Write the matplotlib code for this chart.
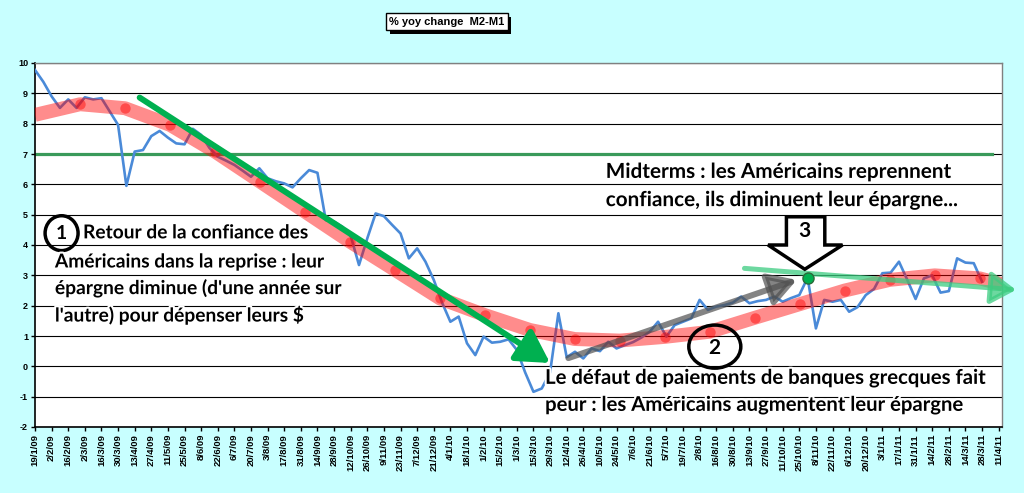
import numpy as np
import pandas as pd
import matplotlib
matplotlib.use('Agg')
import matplotlib.pyplot as plt
from matplotlib.patches import Ellipse, Polygon
import matplotlib.patheffects as pe

# weekly % yoy change M2-M1, from 19/1/09
m2m1 = [9.77, 9.38, 8.9, 8.52, 8.80, 8.52, 8.87, 8.80, 8.84, 8.40,
        7.96, 5.95, 7.08, 7.13, 7.59, 7.76, 7.54, 7.35, 7.32, 7.83,
        7.63, 7.2, 6.91, 6.78, 6.64, 6.45, 6.25, 6.53, 6.2, 6.1,
        6.03, 5.90, 6.2, 6.47, 6.38, 4.82, 4.77, 4.6, 4.3, 3.34,
        4.22, 5.04, 4.95, 4.66, 4.38, 3.56, 3.89, 3.45, 2.85, 2.1,
        1.47, 1.64, 0.76, 0.37, 0.98, 0.78, 0.81, 0.89, 0.54, -0.2,
        -0.84, -0.73, -0.2, 1.75, 0.3, 0.48, 0.26, 0.59, 0.5, 0.81,
        0.59, 0.70, 0.8, 0.95, 1.14, 1.47, 0.98, 1.36, 1.47, 1.58,
        2.19, 1.86, 1.97, 2.02, 2.1, 2.30, 2.08, 2.15, 2.19, 2.3,
        2.13, 2.25, 2.35, 2.92, 1.25, 2.19, 2.13, 2.19, 1.80, 1.95,
        2.35, 2.55, 3.07, 3.09, 3.45, 2.85, 2.22, 2.90, 3.0, 2.43,
        2.48, 3.56, 3.42, 3.40, 2.79]

dates = pd.date_range('2009-01-19', periods=117, freq='7D')
tick_idx = list(range(0, 117, 2))
tick_labels = [f"{dates[i].day}/{dates[i].month}/{dates[i]:%y}" for i in tick_idx]

# hand-drawn red trend band (week, value)
trend_x = [0, 5.42, 10.83, 16.25, 21.66, 27.08, 32.49, 37.91, 43.32, 48.74, 54.15,
           59.57, 64.98, 70.4, 75.81, 81.23, 86.64, 92.06, 97.47, 102.89, 108.3,
           113.72, 116.5]
trend_y = [8.29, 8.64, 8.51, 7.96, 7.08, 6.09, 5.10, 4.11, 3.18, 2.24, 1.69,
           1.20, 0.90, 0.85, 0.97, 1.14, 1.60, 2.05, 2.50, 2.85, 3.0,
           2.90, 2.7]
dots_x = trend_x[1:-1]
dots_y = trend_y[1:-1]

# annotation arrows (week, value)
green_arrow = [(12.6, 8.86), (62.0, 0.11)]
gray_arrow = [(64.2, 0.27), (91.7, 2.85)]
lightgreen_arrow = [(85.4, 3.23), (118.1, 2.52)]
peak = (93, 2.92)

fig = plt.figure(figsize=(10.24, 4.93), dpi=100, facecolor='#c8ffff')
ax = fig.add_axes([35/1024, 1-427/493, (1002-35)/1024, (427-63)/493])
ax.set_facecolor('white')

x = np.arange(len(m2m1))
ax.plot(x, m2m1, color='#4a8ad8', lw=1.9, zorder=3)

ax.plot(trend_x, trend_y, color='red', alpha=0.45, lw=10,
        solid_capstyle='butt', solid_joinstyle='round', zorder=4)
ax.plot(dots_x, dots_y, 'o', color='red', alpha=0.45, ms=7.5, mec='none', zorder=5)

ax.axhline(7, xmax=0.99, color='#3a9a5a', lw=2.3, zorder=2)

ax.annotate('', xy=green_arrow[1], xytext=green_arrow[0],
            arrowprops=dict(arrowstyle='-|>,head_length=1.4,head_width=0.8', lw=4.3,
                            color='#00b050', mutation_scale=14, shrinkA=0, shrinkB=0),
            zorder=6)
ax.annotate('', xy=gray_arrow[1], xytext=gray_arrow[0],
            arrowprops=dict(arrowstyle='-|>,head_length=1.2,head_width=0.7', lw=4.3,
                            color='#505050', alpha=0.7, mutation_scale=14, shrinkA=0, shrinkB=0),
            zorder=6)
ax.annotate('', xy=lightgreen_arrow[1], xytext=lightgreen_arrow[0],
            arrowprops=dict(arrowstyle='-|>,head_length=1.1,head_width=0.7', lw=3.6,
                            color='#3ccc80', alpha=0.75, mutation_scale=14, shrinkA=0, shrinkB=0),
            zorder=6, annotation_clip=False)
ax.plot(*peak, 'o', color='#00b050', mec='#2a6a3a', mew=1, ms=8, zorder=7)

# block arrow "3"
ax.add_patch(Polygon([(90.45, 4.93), (95.07, 4.93), (95.07, 4.0), (97.2, 4.0),
                      (92.66, 3.2), (88.24, 4.0), (90.45, 4.0)],
                     closed=True, fc='white', ec='black', lw=2.5, zorder=8))
ax.text(92.66, 4.45, '3', ha='center', va='center', fontsize=15, fontweight='bold',
        family='Lato', zorder=9)

# circles "1" and "2"
ax.add_patch(Ellipse((3.2, 4.39), 3.97, 1.15, fc='none', ec='black', lw=2.5, zorder=8))
ax.text(3.2, 4.39, '1', ha='center', va='center', fontsize=14, fontweight='bold',
        family='Lato', zorder=9)
ax.add_patch(Ellipse((81.83, 0.65), 6.26, 1.42, fc='none', ec='black', lw=2.5, zorder=8))
ax.text(81.83, 0.62, '2', ha='center', va='center', fontsize=15, fontweight='bold',
        family='Lato', zorder=9)

halo = [pe.withStroke(linewidth=3, foreground='white')]
note_kw = dict(fontweight='bold', family='Lato', va='center', ha='left',
               color='black', zorder=9, path_effects=halo)
ax.text(5.78, 4.40, 'Retour de la confiance des', fontsize=13.8, **note_kw)
ax.text(2.4, 3.44, 'Américains dans la reprise : leur', fontsize=13.8, **note_kw)
ax.text(2.4, 2.58, "épargne diminue (d'une année sur", fontsize=13.8, **note_kw)
ax.text(2.4, 1.69, "l'autre) pour dépenser leurs $", fontsize=13.8, **note_kw)
ax.text(68.7, 6.41, 'Midterms : les Américains reprennent', fontsize=14.9, **note_kw)
ax.text(68.7, 5.48, 'confiance, ils diminuent leur épargne...', fontsize=14.9, **note_kw)
ax.text(61.4, -0.38, 'Le défaut de paiements de banques grecques fait', fontsize=14.6, **note_kw)
ax.text(61.4, -1.27, 'peur : les Américains augmentent leur épargne', fontsize=14.6, **note_kw)

ax.set_xlim(0, 116.4)
ax.set_ylim(-2, 10)
ax.set_yticks(range(-2, 11))
ax.set_yticklabels([str(v) for v in range(-2, 11)], fontsize=6.5, fontweight='bold',
                   family='Liberation Sans')
ax.set_xticks(tick_idx)
ax.set_xticklabels(tick_labels, rotation=90, fontsize=6.8, fontweight='bold',
                   family='Liberation Sans')
ax.tick_params(axis='both', direction='out', length=3, width=1, pad=2)
ax.grid(axis='y', color='black', lw=0.8)
ax.set_axisbelow(True)
for s in ['left', 'bottom']:
    ax.spines[s].set_color('black')
    ax.spines[s].set_linewidth(1.2)
for s in ['top', 'right']:
    ax.spines[s].set_color('#808080')
    ax.spines[s].set_linewidth(1)

t = fig.text(447/1024, 1-21.7/493, '% yoy change  M2-M1', ha='center', va='center',
             fontsize=8, fontweight='bold', family='Liberation Sans',
             bbox=dict(boxstyle='square,pad=0.3', fc='white', ec='black', lw=1))
t.get_bbox_patch().set_path_effects([pe.withSimplePatchShadow(offset=(2.5, -2.5),
                                                              shadow_rgbFace='black', alpha=1)])

fig.savefig('out.png', dpi=100, facecolor=fig.get_facecolor())
